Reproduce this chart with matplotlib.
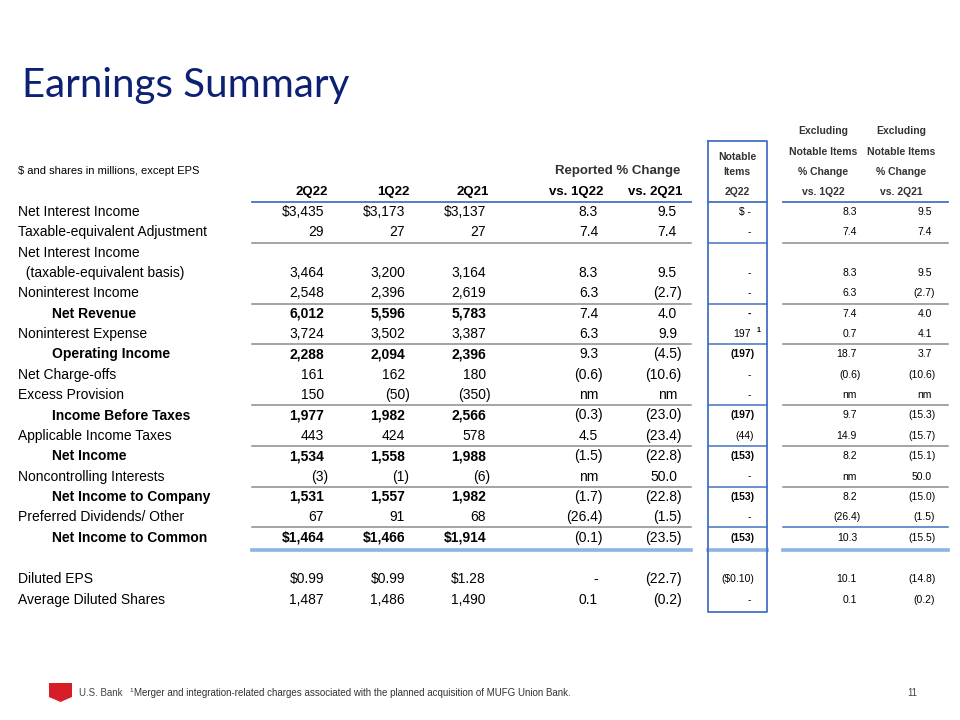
import matplotlib
matplotlib.use("Agg")
import matplotlib.pyplot as plt
from matplotlib.patches import Polygon

# table contents
labels = ["Net Interest Income", "Taxable-equivalent Adjustment", "Net Interest Income",
          "  (taxable-equivalent basis)", "Noninterest Income", "Net Revenue",
          "Noninterest Expense", "Operating Income", "Net Charge-offs", "Excess Provision",
          "Income Before Taxes", "Applicable Income Taxes", "Net Income",
          "Noncontrolling Interests", "Net Income to Company", "Preferred Dividends/ Other",
          "Net Income to Common", "Diluted EPS", "Average Diluted Shares"]
bold_rows = [5, 7, 10, 12, 14, 16]

q2_22 = ["$3,435", "29", "", "3,464", "2,548", "6,012", "3,724", "2,288", "161", "150",
         "1,977", "443", "1,534", "(3)", "1,531", "67", "$1,464", "$0.99", "1,487"]
q1_22 = ["$3,173", "27", "", "3,200", "2,396", "5,596", "3,502", "2,094", "162", "(50)",
         "1,982", "424", "1,558", "(1)", "1,557", "91", "$1,466", "$0.99", "1,486"]
q2_21 = ["$3,137", "27", "", "3,164", "2,619", "5,783", "3,387", "2,396", "180", "(350)",
         "2,566", "578", "1,988", "(6)", "1,982", "68", "$1,914", "$1.28", "1,490"]
vs_1q22 = ["8.3", "7.4", "", "8.3", "6.3", "7.4", "6.3", "9.3", "(0.6)", "nm", "(0.3)",
           "4.5", "(1.5)", "nm", "(1.7)", "(26.4)", "(0.1)", "-", "0.1"]
vs_2q21 = ["9.5", "7.4", "", "9.5", "(2.7)", "4.0", "9.9", "(4.5)", "(10.6)", "nm", "(23.0)",
           "(23.4)", "(22.8)", "50.0", "(22.8)", "(1.5)", "(23.5)", "(22.7)", "(0.2)"]
notable = ["$ -", "-", "", "-", "-", "-", "197", "(197)", "-", "-", "(197)", "(44)",
           "(153)", "-", "(153)", "-", "(153)", "($0.10)", "-"]
ex_1q22 = ["8.3", "7.4", "", "8.3", "6.3", "7.4", "0.7", "18.7", "(0.6)", "nm", "9.7",
           "14.9", "8.2", "nm", "8.2", "(26.4)", "10.3", "10.1", "0.1"]
ex_2q21 = ["9.5", "7.4", "", "9.5", "(2.7)", "4.0", "4.1", "3.7", "(10.6)", "nm", "(15.3)",
           "(15.7)", "(15.1)", "50.0", "(15.0)", "(1.5)", "(15.5)", "(14.8)", "(0.2)"]

row_y = [212 + 20.35 * i for i in range(17)] + [579, 600]
lines_after = [1, 4, 6, 9, 11, 13, 15]

FONT = "Liberation Sans"
BLUE = "#4472C4"
LIGHTBLUE = "#8DB3E2"
GRAY = "#8C8C8C"

fig = plt.figure(figsize=(9.6, 7.2), dpi=100)
ax = fig.add_axes([0, 0, 1, 1])
ax.set_xlim(0, 960)
ax.set_ylim(720, 0)
ax.axis("off")

# title
ax.text(22, 85, "Earnings Summary", fontsize=29, color="#0C2074", family="Lato",
        va="center", ha="left")

# headers
ax.text(18, 171, "$ and shares in millions, except EPS", fontsize=8, family=FONT, va="center")
ax.text(680, 171, "Reported % Change", fontsize=9.5, weight="bold", family=FONT,
        va="center", ha="right", color="#333333")
for x, h in zip([312, 393, 473, 576, 655], ["2Q22", "1Q22", "2Q21", "vs. 1Q22", "vs. 2Q21"]):
    ax.text(x, 192, h, fontsize=9.5, weight="bold", family=FONT, va="center", ha="center")
for y, h in zip([157, 172, 192], ["Notable", "Items", "2Q22"]):
    ax.text(737, y, h, fontsize=7.5, weight="bold", family=FONT, va="center", ha="center",
            color="#333333")
for x, hs in zip([823, 901], [["Excluding", "Notable Items", "% Change", "vs. 1Q22"],
                              ["Excluding", "Notable Items", "% Change", "vs. 2Q21"]]):
    for y, h in zip([131, 152, 172, 192], hs):
        ax.text(x, y, h, fontsize=7.5, weight="bold", family=FONT, va="center", ha="center",
                color="#333333")


def cell(x, y, s, size, bold=False):
    # parentheses hang a little to the right, like accounting format
    if s.endswith(")"):
        x += 0.45 * size
    ax.text(x, y, s, fontsize=size, weight="bold" if bold else "normal", family=FONT,
            va="center", ha="right")


for i, lab in enumerate(labels):
    y = row_y[i]
    b = i in bold_rows
    ax.text(52 if b else 18, y, lab, fontsize=10, weight="bold" if b else "normal",
            family=FONT, va="center", ha="left")
    cell(324, y, q2_22[i], 10, b)
    cell(405, y, q1_22[i], 10, b)
    cell(486, y, q2_21[i], 10, b)
    cell(598, y, vs_1q22[i], 10)
    cell(677, y, vs_2q21[i], 10)
    cell(751, y, notable[i], 7.5, b)
    cell(857, y, ex_1q22[i], 7.5)
    cell(932, y, ex_2q21[i], 7.5)
ax.text(757, row_y[6] - 4, "1", fontsize=5, weight="bold", family=FONT, va="center")

# rules
ax.plot([252, 691], [202, 202], color=BLUE, lw=1.3)
ax.plot([783, 948], [202, 202], color=BLUE, lw=1.3)
ax.plot([708, 767], [202, 202], color=BLUE, lw=1.3)
for k in lines_after:
    y = (row_y[k] + row_y[k + 1]) / 2
    ax.plot([252, 691], [y, y], color=GRAY, lw=1.1)
    ax.plot([783, 948], [y, y], color=BLUE if k == 15 else GRAY, lw=1.1)
    ax.plot([708, 767], [y, y], color=BLUE, lw=1.1)
y = (row_y[16] + 12)
for x0, x1 in [(252, 691), (708, 767), (783, 948)]:
    ax.plot([x0, x1], [y, y], color=LIGHTBLUE, lw=2.6)

# notable items box
ax.plot([708, 767, 767, 708, 708], [141, 141, 612, 612, 141], color=BLUE, lw=1.3)

# footer
ax.add_patch(Polygon([[49, 683], [72, 683], [72, 697], [60.5, 702], [49, 697]],
                     closed=True, color="#D71E28", lw=0))
ax.text(79, 693, "U.S. Bank", fontsize=7, family=FONT, color="#444444", va="center")
ax.text(129, 690, "1", fontsize=4.5, family=FONT, color="#333333", va="center")
ax.text(134, 693, "Merger and integration-related charges associated with the planned "
        "acquisition of MUFG Union Bank.", fontsize=7, family=FONT, color="#333333",
        va="center")
ax.text(917, 693, "11", fontsize=7, family=FONT, color="#444444", va="center", ha="right")

fig.savefig("out.png", dpi=100)
